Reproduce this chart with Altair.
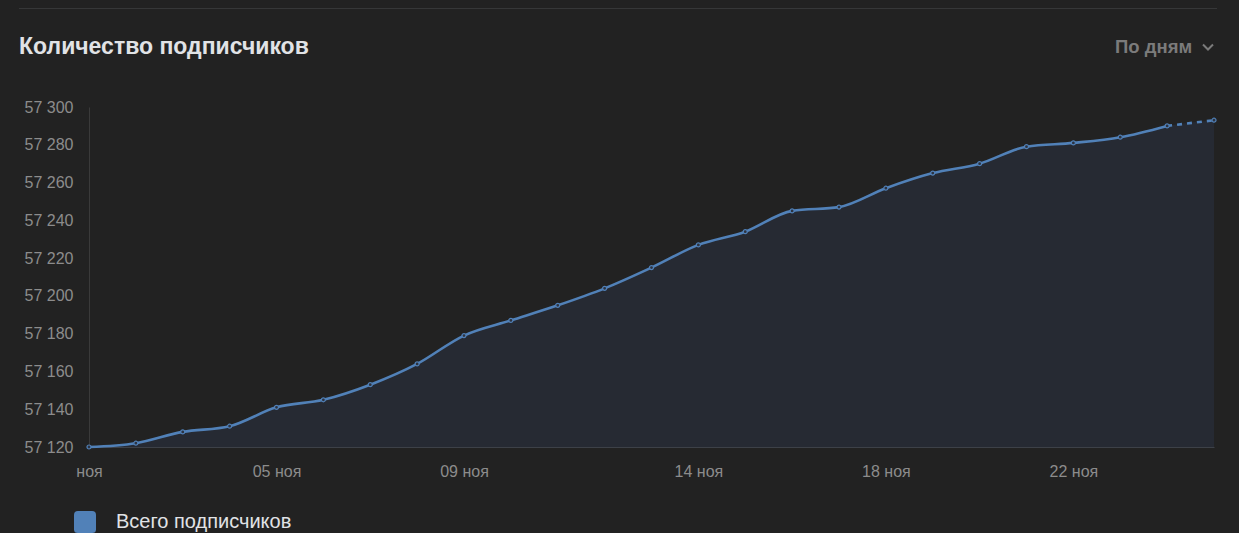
import altair as alt
import pandas as pd

# ---- data ----
days = list(range(1, 26))
subscribers = [57120, 57122, 57128, 57131, 57141, 57145, 57153, 57164, 57179,
               57187, 57195, 57204, 57215, 57227, 57234, 57245, 57247, 57257,
               57265, 57270, 57279, 57281, 57284, 57290, 57293]
series_name = "Всего подписчиков"
chart_title = "Количество подписчиков"
period_label = "По дням"

y_ticks = [57120, 57140, 57160, 57180, 57200, 57220, 57240, 57260, 57280, 57300]
x_tick_days = [1, 5, 9, 14, 18, 22]
x_tick_labels = ["ноя", "05 ноя", "09 ноя", "14 ноя", "18 ноя", "22 ноя"]
forecast_from_day = 24  # last segment is drawn dashed

# ---- styling ----
BG = "#222222"
LINE = "#5181b8"
AREA = "#262a33"
AXIS_TXT = "#8c8c8c"
TITLE_TXT = "#e1e3e6"
FONT = "Liberation Sans"

# dark page around the chart (the page margin would otherwise be white)
try:
    import altair.utils.html as _ah
    _orig_tpl = _ah.TEMPLATES["standard"]

    class _DarkPage:
        def render(self, **kw):
            html = _orig_tpl.render(**kw)
            return html.replace("<style>", "<style>\n    html, body { background: %s; overflow: hidden; }" % BG, 1)

    _ah.TEMPLATES["standard"] = _DarkPage()
except Exception:
    pass

df = pd.DataFrame({"day": days, "value": subscribers, "series": series_name})

x_expr = " : ".join(f"datum.value == {d} ? '{l}'" for d, l in zip(x_tick_days, x_tick_labels)) + " : ''"

x_enc = alt.X(
    "day:Q",
    scale=alt.Scale(domain=[days[0], days[-1]], nice=False),
    axis=alt.Axis(values=x_tick_days, labelExpr=x_expr, ticks=False, grid=False,
                  domainColor="#3d4148", labelColor=AXIS_TXT, labelFontSize=16,
                  labelFont=FONT, labelPadding=16, title=None, labelFlush=False,
                  labelOverlap=False),
)
y_enc = alt.Y(
    "value:Q",
    scale=alt.Scale(domain=[y_ticks[0], y_ticks[-1]], nice=False, zero=False),
    axis=alt.Axis(values=y_ticks, labelExpr="replace(format(datum.value, ','), ',', ' ')",
                  ticks=False, grid=False, domainColor="#3a3a3a", labelColor=AXIS_TXT,
                  labelFontSize=16, labelFont=FONT, labelPadding=16, title=None,
                  labelOverlap=False, labelFlush=False, labelBound=False),
)

base = alt.Chart(df).encode(x=x_enc, y=y_enc)

area = base.mark_area(interpolate="monotone", color=AREA, opacity=1).encode(
    y2=alt.datum(y_ticks[0]))

line_solid = base.transform_filter(alt.datum.day <= forecast_from_day).mark_line(
    interpolate="monotone", strokeWidth=2.6).encode(
    color=alt.Color("series:N", scale=alt.Scale(range=[LINE]),
                    legend=alt.Legend(title=None, orient="none", legendX=-15, legendY=404,
                                      symbolType="M -1 -0.65 Q -1 -1 -0.65 -1 L 0.65 -1 Q 1 -1 1 -0.65 L 1 0.65 Q 1 1 0.65 1 L -0.65 1 Q -1 1 -1 0.65 Z",
                                      symbolSize=484, symbolFillColor=LINE, symbolStrokeWidth=0,
                                      symbolOpacity=1, labelFontSize=20, labelColor=TITLE_TXT,
                                      labelFont=FONT, labelOffset=20, labelLimit=0)),
)
line_dashed = base.transform_filter(alt.datum.day >= forecast_from_day).mark_line(
    strokeWidth=2.6, strokeDash=[5, 5], color=LINE)

points = base.mark_point(shape="circle", size=16, filled=True, fill="#2c3341",
                         stroke=LINE, strokeWidth=1.2, opacity=1)

header = pd.DataFrame({"t": [period_label], "title": [chart_title]})
title_txt = alt.Chart(header).mark_text(align="left", baseline="alphabetic", fontSize=23,
                                        fontWeight="bold", color=TITLE_TXT, font=FONT).encode(
    text="title:N", x=alt.value(-70), y=alt.value(-53))
period = alt.Chart(header).mark_text(align="left", baseline="alphabetic", fontSize=18.5,
                                     fontWeight="bold", color="#7b7b7b", font=FONT).encode(
    text="t:N", x=alt.value(1026), y=alt.value(-54))
chevron = alt.Chart(header).mark_point(shape="M -1 -0.5 L 0 0.5 L 1 -0.5", size=100,
                                       filled=False, color="#7b7b7b", strokeWidth=2,
                                       opacity=1).encode(x=alt.value(1119), y=alt.value(-60))
top_rule = alt.Chart(header).mark_rule(color="#363738", strokeWidth=1).encode(
    x=alt.value(-70), x2=alt.value(1128), y=alt.value(-98.5))

chart = alt.layer(area, line_solid, line_dashed, points, title_txt, period, chevron, top_rule).properties(
    width=1125, height=340,
    autosize=alt.AutoSizeParams(type="none"),
    padding={"left": 81, "top": 99, "right": 15, "bottom": 90},
).configure(background=BG).configure_view(stroke=None).configure_axis(labelOverlap=False)

chart.save("out.html", embed_options={"renderer": "svg", "actions": False})
